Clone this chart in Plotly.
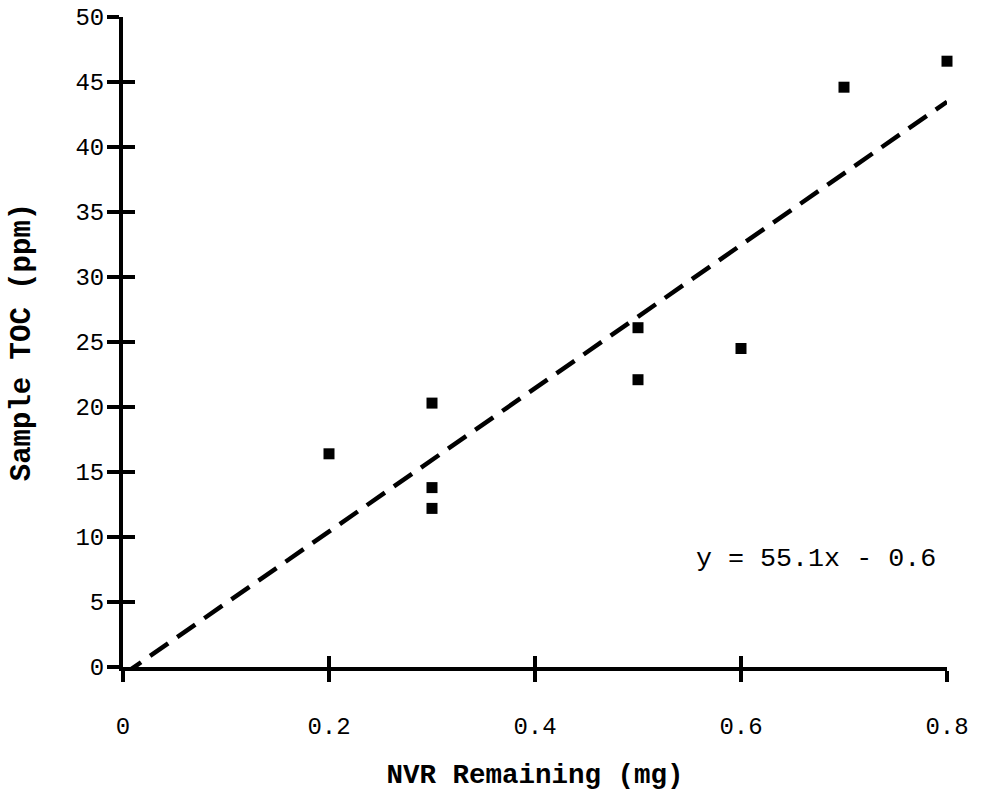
import plotly.graph_objects as go

nvr_mg = [0.2, 0.3, 0.3, 0.3, 0.5, 0.5, 0.6, 0.7, 0.8]
toc_ppm = [16.4, 20.3, 13.8, 12.2, 26.1, 22.1, 24.5, 44.6, 46.6]
slope = 55.1
intercept = -0.6
fit_x = [0.0, 0.8]
fit_y = [slope * v + intercept for v in fit_x]
x_ticks = [0, 0.2, 0.4, 0.6, 0.8]
x_tick_text = ["0", "0.2", "0.4", "0.6", "0.8"]
y_ticks = [0, 5, 10, 15, 20, 25, 30, 35, 40, 45, 50]
equation = "y = 55.1x - 0.6"

MONO = "Liberation Mono, Courier New, monospace"

fig = go.Figure()
fig.add_trace(go.Scatter(x=fit_x, y=fit_y, mode="lines",
                         line=dict(color="black", width=4.5, dash="22px,11px"),
                         hoverinfo="skip", showlegend=False))
fig.add_trace(go.Scatter(x=nvr_mg, y=toc_ppm, mode="markers",
                         marker=dict(symbol="square", size=11, color="black"),
                         cliponaxis=False, showlegend=False))
# overlay axes to draw inward half of crossing ticks
fig.add_trace(go.Scatter(x=[None], y=[None], xaxis="x2", yaxis="y2",
                         showlegend=False, hoverinfo="skip"))

axis_common = dict(showgrid=False, zeroline=False, showline=True, automargin=False,
                   linecolor="black", linewidth=4, tickcolor="black",
                   tickwidth=4,
                   tickfont=dict(family=MONO, size=24, color="black"))

fig.update_layout(
    width=985, height=796,
    paper_bgcolor="white", plot_bgcolor="white",
    margin=dict(l=123, r=38, t=17, b=129),
    xaxis=dict(range=[0, 0.8], tickvals=x_ticks, ticktext=x_tick_text,
               ticks="outside", ticklen=11, ticklabelstandoff=23,
               title=dict(text="<b>NVR Remaining (mg)</b>",
                          font=dict(family=MONO, size=27.5, color="black"),
                          standoff=25),
               **axis_common),
    yaxis=dict(range=[0, 50], tickvals=y_ticks,
               ticks="outside", ticklen=12, ticklabelstandoff=-2,
               title=dict(text="<b>Sample TOC (ppm)</b>",
                          font=dict(family=MONO, size=29, color="black"),
                          standoff=37),
               **axis_common),
    xaxis2=dict(range=[0, 0.8], tickvals=x_ticks[1:], overlaying="x", anchor="y2",
                side="bottom", ticks="inside", ticklen=11, tickwidth=4,
                tickcolor="black", showticklabels=False, showgrid=False,
                zeroline=False, showline=False, automargin=False),
    yaxis2=dict(range=[0, 50], tickvals=y_ticks[1:], overlaying="y", anchor="x2",
                side="left", ticks="inside", ticklen=12, tickwidth=4,
                tickcolor="black", showticklabels=False, showgrid=False,
                zeroline=False, showline=False, automargin=False),
    annotations=[dict(x=0.673, y=8.3, xref="x", yref="y", text=equation,
                      showarrow=False,
                      font=dict(family=MONO, size=26.7, color="black"))],
)

fig.write_html("out.html", config={"displayModeBar": False},
               post_script="document.body.style.margin='0';document.body.style.padding='0';")
